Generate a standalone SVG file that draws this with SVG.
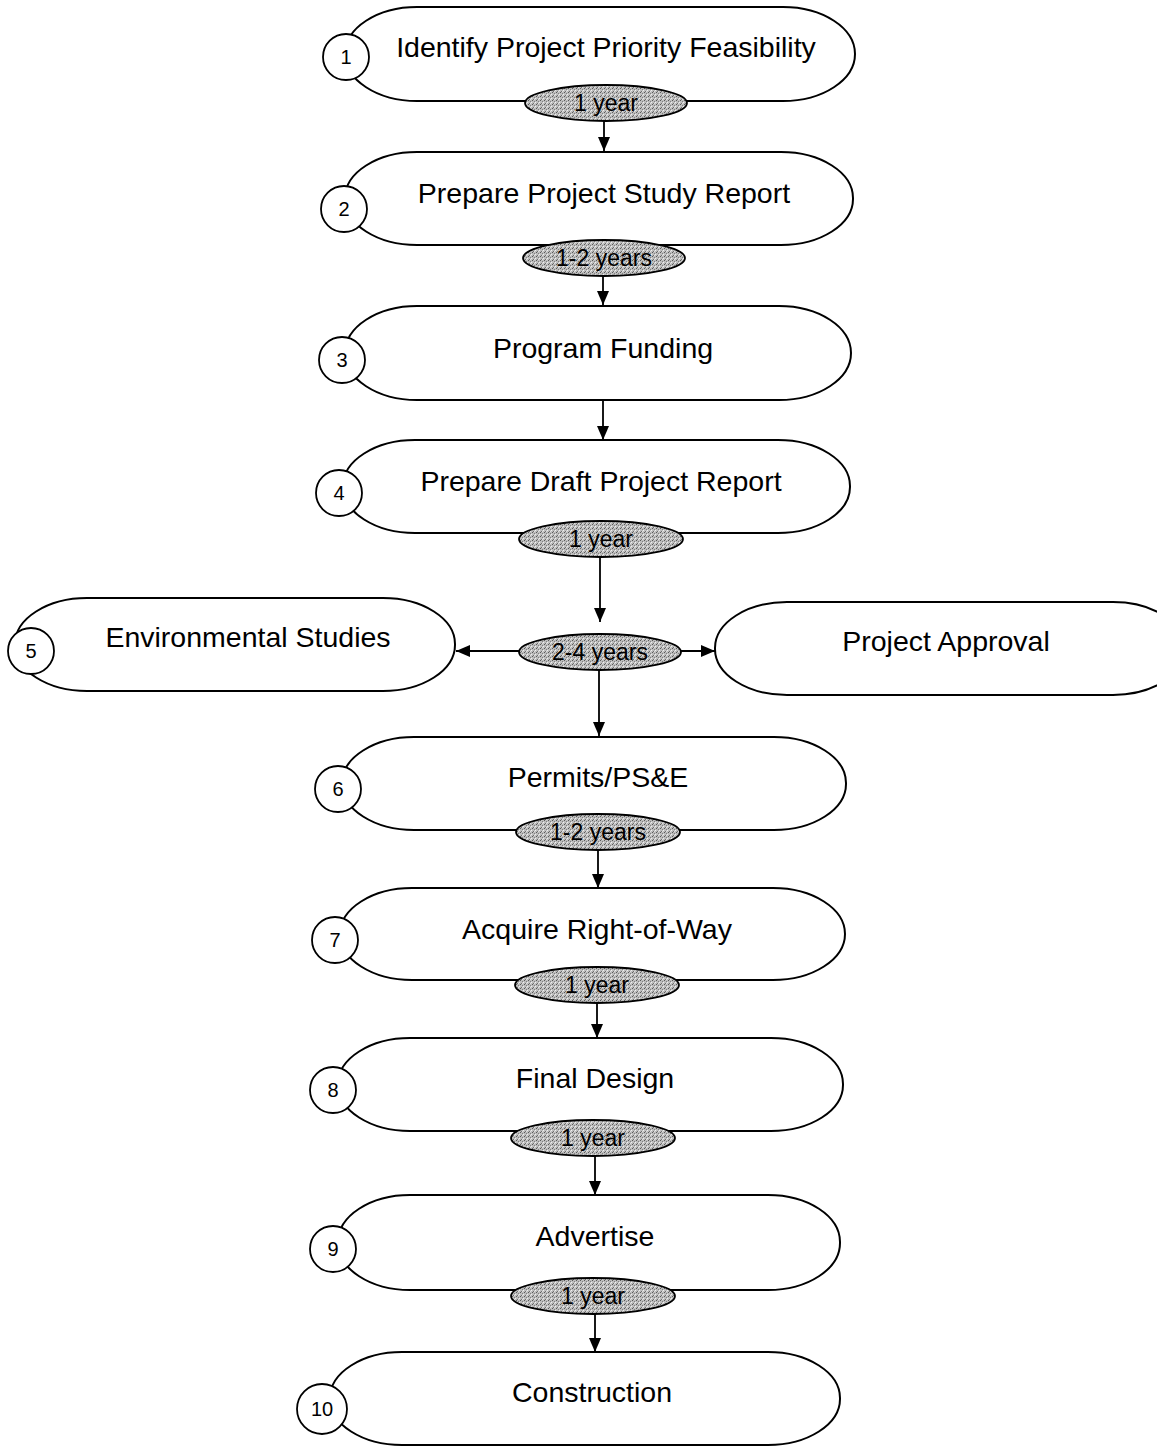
<svg xmlns="http://www.w3.org/2000/svg" width="1157" height="1447" viewBox="0 0 1157 1447">
<defs>
<pattern id="stip" width="4" height="4" patternUnits="userSpaceOnUse">
<rect width="4" height="4" fill="#bdbdbd"/>
<rect x="0" y="0" width="1" height="1" fill="#5a5a5a"/>
<rect x="2" y="1" width="1" height="1" fill="#808080"/>
<rect x="1" y="3" width="1" height="1" fill="#707070"/>
<rect x="3" y="2" width="1" height="1" fill="#efefef"/>
<rect x="2" y="3" width="1" height="1" fill="#e0e0e0"/>
</pattern>
<marker id="ah" viewBox="0 0 14 12" refX="14" refY="6" markerWidth="14" markerHeight="12" markerUnits="userSpaceOnUse" orient="auto">
<path d="M0,0 L14,6 L0,12 z" fill="#000"/>
</marker>
</defs>
<style>
.pill{fill:#fff;stroke:#000;stroke-width:2}
.num{fill:#fff;stroke:#000;stroke-width:1.8}
.dur{fill:url(#stip);stroke:#000;stroke-width:1.8}
.t{font-family:"Liberation Sans",Arial,sans-serif;font-size:28.5px;fill:#000;text-anchor:middle}
.n{font-family:"Liberation Sans",Arial,sans-serif;font-size:20px;fill:#000;text-anchor:middle}
.d{font-family:"Liberation Sans",Arial,sans-serif;font-size:23px;fill:#000;text-anchor:middle}
.c{stroke:#000;stroke-width:1.8;fill:none;marker-end:url(#ah)}
</style>
<rect width="1157" height="1447" fill="#fff"/>
<g id="connectors">
<line class="c" x1="604" y1="121" x2="604" y2="151"/>
<line class="c" x1="603" y1="276" x2="603" y2="305"/>
<line class="c" x1="603" y1="400" x2="603" y2="440"/>
<line class="c" x1="600" y1="557" x2="600" y2="622"/>
<line class="c" x1="520" y1="651" x2="456" y2="651"/>
<line class="c" x1="680" y1="651" x2="715" y2="651"/>
<line class="c" x1="599" y1="670" x2="599" y2="736"/>
<line class="c" x1="598" y1="850" x2="598" y2="888"/>
<line class="c" x1="597" y1="1003" x2="597" y2="1038"/>
<line class="c" x1="595" y1="1156" x2="595" y2="1195"/>
<line class="c" x1="595" y1="1314" x2="595" y2="1352"/>
</g>
<g id="node1">
<rect class="pill" x="345" y="7" width="510" height="94" rx="72" ry="47"/>
<circle class="num" cx="346" cy="57" r="23"/>
<text class="n" x="346" y="64">1</text>
<text class="t" x="606" y="57">Identify Project Priority Feasibility</text>
</g>
<g id="dur1">
<ellipse class="dur" cx="606" cy="103" rx="81" ry="18"/>
<text class="d" x="606" y="111">1 year</text>
</g>
<g id="node2">
<rect class="pill" x="345" y="152" width="508" height="93" rx="72" ry="46"/>
<circle class="num" cx="344" cy="209" r="23"/>
<text class="n" x="344" y="216">2</text>
<text class="t" x="604" y="203">Prepare Project Study Report</text>
</g>
<g id="dur2">
<ellipse class="dur" cx="604" cy="258" rx="81" ry="18"/>
<text class="d" x="604" y="266">1-2 years</text>
</g>
<g id="node3">
<rect class="pill" x="345" y="306" width="506" height="94" rx="72" ry="47"/>
<circle class="num" cx="342" cy="360" r="23"/>
<text class="n" x="342" y="367">3</text>
<text class="t" x="603" y="358">Program Funding</text>
</g>
<g id="node4">
<rect class="pill" x="343" y="440" width="507" height="93" rx="72" ry="46"/>
<circle class="num" cx="339" cy="493" r="23"/>
<text class="n" x="339" y="500">4</text>
<text class="t" x="601" y="491">Prepare Draft Project Report</text>
</g>
<g id="dur4">
<ellipse class="dur" cx="601" cy="539" rx="82" ry="18"/>
<text class="d" x="601" y="547">1 year</text>
</g>
<g id="node5">
<rect class="pill" x="15" y="598" width="440" height="93" rx="72" ry="46"/>
<circle class="num" cx="31" cy="651" r="23"/>
<text class="n" x="31" y="658">5</text>
<text class="t" x="248" y="647">Environmental Studies</text>
</g>
<g id="dur5">
<ellipse class="dur" cx="600" cy="652" rx="81" ry="18"/>
<text class="d" x="600" y="660">2-4 years</text>
</g>
<g id="approval">
<rect class="pill" x="715" y="602" width="470" height="93" rx="72" ry="46"/>
<text class="t" x="946" y="651">Project Approval</text>
</g>
<g id="node6">
<rect class="pill" x="342" y="737" width="504" height="93" rx="72" ry="46"/>
<circle class="num" cx="338" cy="789" r="23"/>
<text class="n" x="338" y="796">6</text>
<text class="t" x="598" y="787">Permits/PS&amp;E</text>
</g>
<g id="dur6">
<ellipse class="dur" cx="598" cy="832" rx="82" ry="18"/>
<text class="d" x="598" y="840">1-2 years</text>
</g>
<g id="node7">
<rect class="pill" x="340" y="888" width="505" height="92" rx="72" ry="46"/>
<circle class="num" cx="335" cy="940" r="23"/>
<text class="n" x="335" y="947">7</text>
<text class="t" x="597" y="939">Acquire Right-of-Way</text>
</g>
<g id="dur7">
<ellipse class="dur" cx="597" cy="985" rx="82" ry="18"/>
<text class="d" x="597" y="993">1 year</text>
</g>
<g id="node8">
<rect class="pill" x="338" y="1038" width="505" height="93" rx="72" ry="46"/>
<circle class="num" cx="333" cy="1090" r="23"/>
<text class="n" x="333" y="1097">8</text>
<text class="t" x="595" y="1088">Final Design</text>
</g>
<g id="dur8">
<ellipse class="dur" cx="593" cy="1138" rx="82" ry="18"/>
<text class="d" x="593" y="1146">1 year</text>
</g>
<g id="node9">
<rect class="pill" x="338" y="1195" width="502" height="95" rx="72" ry="47"/>
<circle class="num" cx="333" cy="1249" r="23"/>
<text class="n" x="333" y="1256">9</text>
<text class="t" x="595" y="1246">Advertise</text>
</g>
<g id="dur9">
<ellipse class="dur" cx="593" cy="1296" rx="82" ry="18"/>
<text class="d" x="593" y="1304">1 year</text>
</g>
<g id="node10">
<rect class="pill" x="330" y="1352" width="510" height="93" rx="72" ry="46"/>
<circle class="num" cx="322" cy="1409" r="25"/>
<text class="n" x="322" y="1416">10</text>
<text class="t" x="592" y="1402">Construction</text>
</g>
</svg>
